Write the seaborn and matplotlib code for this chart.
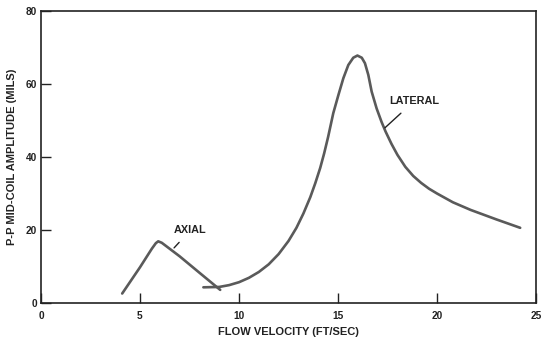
import matplotlib
matplotlib.use("Agg")
import matplotlib.pyplot as plt
import seaborn as sns
import pandas as pd

# Data
axial_x = [4.1, 5.0, 5.6, 5.8, 5.92, 6.1, 7.0, 8.0, 9.05]
axial_y = [2.6, 9.8, 14.9, 16.4, 16.9, 16.5, 12.8, 8.3, 3.6]

lateral_x = [8.2, 9.0, 9.5, 10.0, 10.5, 11.0, 11.5, 12.0, 12.5, 12.9, 13.25, 13.6,
             13.85, 14.1, 14.3, 14.5, 14.76, 15.02, 15.27,
             15.52, 15.77, 15.98, 16.2, 16.36, 16.53, 16.7, 16.95, 17.2, 17.4, 17.7,
             18.0, 18.4, 18.8, 19.2, 19.6, 20.0, 20.8, 21.7, 23.0, 24.2]
lateral_y = [4.3, 4.4, 4.9, 5.7, 6.9, 8.5, 10.6, 13.4, 17.0, 20.6, 24.5, 29.0,
             32.8, 37.0, 41.0, 45.5, 52.0, 57.0, 61.6,
             65.2, 67.2, 67.8, 67.2, 65.7, 62.5, 57.9, 53.3, 49.6, 47.0, 43.6,
             40.6, 37.3, 34.8, 32.9, 31.3, 30.0, 27.6, 25.5, 22.9, 20.6]

x_ticks = [0, 5, 10, 15, 20, 25]
y_ticks = [0, 20, 40, 60, 80]

sns.set_style("ticks")
plt.rcParams['font.family'] = ['Liberation Sans', 'DejaVu Sans']

fig = plt.figure(figsize=(5.41, 3.40), dpi=100)
ax = fig.add_axes([0.0758, 0.1088, 0.915, 0.8588])

line_color = "#5a5a5a"
df_a = pd.DataFrame({"x": axial_x, "y": axial_y})
df_l = pd.DataFrame({"x": lateral_x, "y": lateral_y})
sns.lineplot(data=df_a, x="x", y="y", sort=False, ax=ax, color=line_color, lw=1.9,
             estimator=None, solid_joinstyle="round", solid_capstyle="round")
sns.lineplot(data=df_l, x="x", y="y", sort=False, ax=ax, color=line_color, lw=1.9,
             estimator=None, solid_joinstyle="round", solid_capstyle="round")

ax.set_xlim(0, 25)
ax.set_ylim(0, 80)
ax.set_xticks(x_ticks)
ax.set_yticks(y_ticks)
ax.set_xticklabels([str(t) for t in x_ticks], fontsize=7.3, fontweight="bold", color="#222")
ax.set_yticklabels([str(t) for t in y_ticks], fontsize=7.3, fontweight="bold", color="#222")
ax.tick_params(axis="both", direction="in", length=7, width=1.0, color="#222")
ax.tick_params(axis="x", pad=6)
ax.tick_params(axis="y", pad=3)

for s in ax.spines.values():
    s.set_visible(True)
    s.set_color("#222")
    s.set_linewidth(1.2)

ax.set_xlabel("FLOW VELOCITY (FT/SEC)", fontsize=8, fontweight="bold", color="#222",
              labelpad=4)
ax.set_ylabel("P-P MID-COIL AMPLITUDE (MILS)", fontsize=8, fontweight="bold", color="#222",
              labelpad=6)

ax.annotate("AXIAL", xy=(6.72, 15.1), xytext=(7.55, 20.0), fontsize=7.8,
            fontweight="bold", color="#222", ha="center", va="center",
            arrowprops=dict(arrowstyle="-", color="#222", lw=1.0,
                            shrinkA=4, shrinkB=0))
ax.annotate("LATERAL", xy=(17.37, 48.0), xytext=(18.84, 55.3), fontsize=7.8,
            fontweight="bold", color="#222", ha="center", va="center",
            arrowprops=dict(arrowstyle="-", color="#222", lw=1.0,
                            shrinkA=4, shrinkB=0))

fig.savefig("out.png", dpi=100)
